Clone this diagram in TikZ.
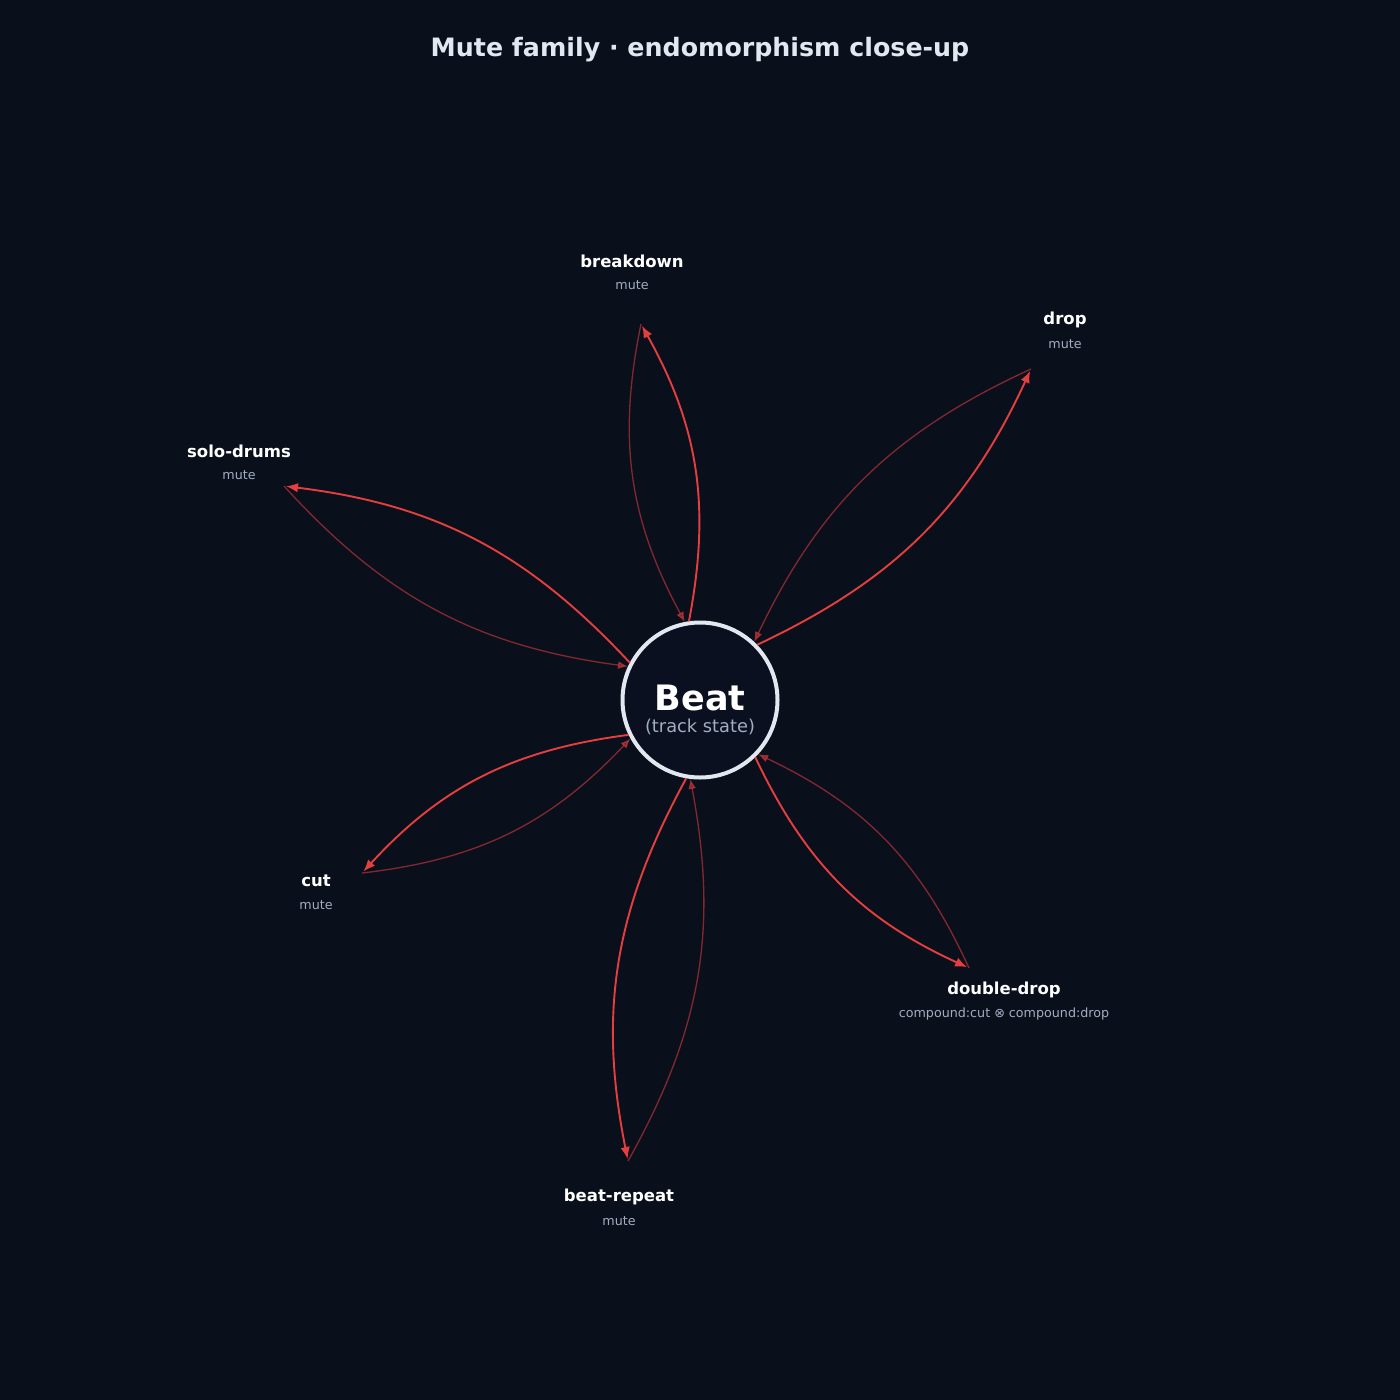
\documentclass[tikz,border=0pt]{standalone}
\usepackage{fontspec}
\setmainfont{DejaVu Sans}
\usepackage{tikz}
\usetikzlibrary{arrows.meta}

\definecolor{bgcol}{RGB}{10,15,28}
\definecolor{hubfill}{RGB}{11,16,32}
\definecolor{hubline}{RGB}{226,232,240}
\definecolor{titlecol}{RGB}{226,232,240}
\definecolor{subcol}{RGB}{160,174,192}
\definecolor{fwdred}{RGB}{229,62,62}

\tikzset{
  fwd/.style={draw=fwdred, line width=1.9pt, bend right=20, shorten >=2pt,
    -{Latex[length=12pt,width=9.5pt]}},
  ret/.style={draw=fwdred, opacity=0.55, line width=1.3pt, bend right=20,
    -{Latex[length=10pt,width=8pt]}},
  leafname/.style={text=white, font=\fontsize{16.5}{19}\selectfont\bfseries, inner sep=0pt},
  leafsub/.style={text=subcol, font=\fontsize{12.7}{15}\selectfont, inner sep=0pt},
}

\begin{document}
\begin{tikzpicture}[x=1pt,y=-1pt]
% background, sets the page at 1400 x 1400
\fill [bgcol] (0,0) rectangle (1400,1400);
\useasboundingbox (0,0) rectangle (1400,1400);

% Title
\node (title) [text=titlecol, font=\fontsize{25.3}{30}\selectfont\bfseries] at (700,50) {Mute family · endomorphism close-up};

% Hub
\node (beat) [circle, draw=hubline, fill=hubfill, line width=4pt, minimum size=155pt, inner sep=0pt] at (700,700) {};
\node (beatname) [text=white, font=\fontsize{35}{41}\selectfont\bfseries, inner sep=0pt] at (700,698) {Beat};
\node (beatsub) [text=subcol, font=\fontsize{17.8}{21}\selectfont, inner sep=0pt] at (700,727) {(track state)};

% Leaf anchors
\coordinate (breakdown) at (641,324);
\coordinate (drop) at (1031,369);
\coordinate (solo) at (284,486);
\coordinate (cut) at (362,873);
\coordinate (double) at (969,968);
\coordinate (repeat) at (628,1161);

% Leaf labels
\node (breakdownname) [leafname] at (632,261) {breakdown};
\node (breakdownsub) [leafsub] at (632,285) {mute};
\node (dropname) [leafname] at (1065,320) {drop};
\node (dropsub) [leafsub] at (1065,344) {mute};
\node (soloname) [leafname] at (239,451) {solo-drums};
\node (solosub) [leafsub] at (239,475) {mute};
\node (cutname) [leafname] at (316,881) {cut};
\node (cutsub) [leafsub] at (316,905) {mute};
\node (doublename) [leafname] at (1004,990) {double-drop};
\node (doublesub) [leafsub] at (1004,1014) {compound:cut ⊗ compound:drop};
\node (repeatname) [leafname] at (619,1197) {beat-repeat};
\node (repeatsub) [leafsub] at (619,1221) {mute};

% Returns (faded), back onto the hub rim
\draw [ret] (breakdown) to (beat.101);
\draw [ret] (drop) to (beat.47);
\draw [ret] (solo) to (beat.155);
\draw [ret] (cut) to (beat.209);
\draw [ret] (double) to (beat.317);
\draw [ret] (repeat) to (beat.263);

% Forward arrows, rim out to the leaves
\draw [fwd] (beat.98) to (breakdown);
\draw [fwd] (beat.44) to (drop);
\draw [fwd] (beat.152) to (solo);
\draw [fwd] (beat.206) to (cut);
\draw [fwd] (beat.314) to (double);
\draw [fwd] (beat.260) to (repeat);
\end{tikzpicture}
\end{document}
